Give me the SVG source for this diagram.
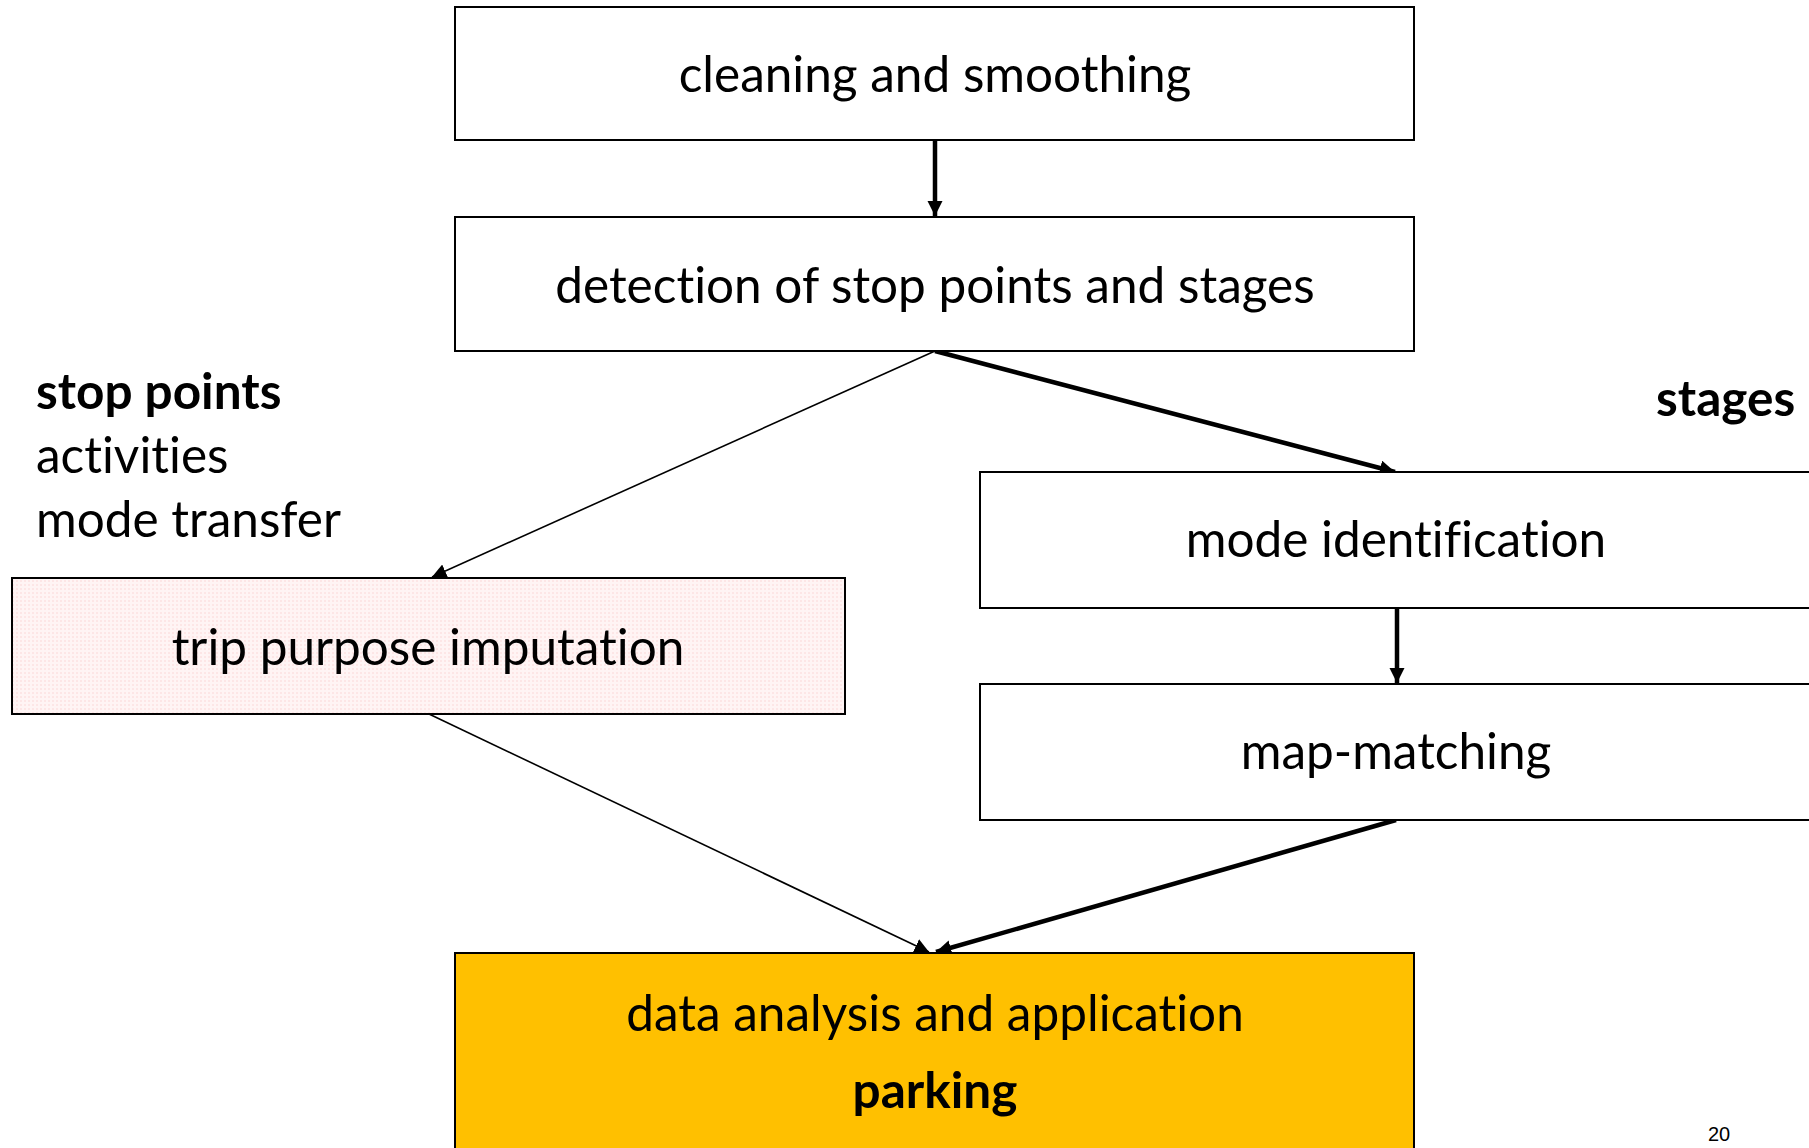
<svg xmlns="http://www.w3.org/2000/svg" width="1809" height="1148" viewBox="0 0 1809 1148">
  <defs>
    <style>
      .box { stroke: #000; stroke-width: 2; fill: #fff; }
      .lbl { font-family: Lato, "Open Sans", sans-serif; font-size: 49.5px; fill: #000; text-anchor: middle; font-variant-ligatures: none; }
      .side { font-family: Lato, "Open Sans", sans-serif; font-size: 49.5px; fill: #000; font-variant-ligatures: none; }
      .bold { font-weight: bold; }
      .thick { stroke: #000; stroke-width: 4.5; fill: none; }
      .thin { stroke: #000; stroke-width: 1.6; fill: none; }
    </style>
    <pattern id="pinkgrid" width="4" height="4" patternUnits="userSpaceOnUse">
      <rect width="4" height="4" fill="#fff4f4"/>
      <rect width="2" height="2" fill="#fde6e6"/>
    </pattern>
    <marker id="headThick" viewBox="0 0 10 10" refX="10" refY="5" markerWidth="3.4" markerHeight="3.4" orient="auto" markerUnits="strokeWidth">
      <path d="M0,0 L10,5 L0,10 Z" fill="#000"/>
    </marker>
    <marker id="headThin" viewBox="0 0 10 10" refX="10" refY="5" markerWidth="9" markerHeight="9" orient="auto" markerUnits="strokeWidth">
      <path d="M0,0 L10,5 L0,10 Z" fill="#000"/>
    </marker>
  </defs>

  <rect width="1809" height="1148" fill="#fff"/>

  <!-- connectors -->
  <g id="connectors">
    <line class="thick" x1="935" y1="140" x2="935" y2="216" marker-end="url(#headThick)"/>
    <line class="thin" x1="935" y1="351" x2="432" y2="577" marker-end="url(#headThin)"/>
    <line class="thick" x1="935" y1="351" x2="1395" y2="472" marker-end="url(#headThick)"/>
    <line class="thick" x1="1397" y1="608" x2="1397" y2="683" marker-end="url(#headThick)"/>
    <line class="thin" x1="429" y1="714" x2="929" y2="952" marker-end="url(#headThin)"/>
    <line class="thick" x1="1396" y1="820" x2="936" y2="952" marker-end="url(#headThick)"/>
  </g>

  <g id="cleaning">
    <rect class="box" x="455" y="7" width="959" height="133"/>
    <text class="lbl" x="935" y="92">cleaning and smoothing</text>
  </g>

  <g id="detection">
    <rect class="box" x="455" y="217" width="959" height="134"/>
    <text class="lbl" x="935" y="303">detection of stop points and stages</text>
  </g>

  <g id="stop-points-label">
    <text class="side bold" x="36" y="409">stop points</text>
    <text class="side" x="36" y="473">activities</text>
    <text class="side" x="36" y="537">mode transfer</text>
  </g>

  <g id="stages-label">
    <text class="side bold" x="1656" y="416">stages</text>
  </g>

  <g id="trip-purpose">
    <rect class="box" x="12" y="578" width="833" height="136" fill="url(#pinkgrid)" style="fill:url(#pinkgrid)"/>
    <text class="lbl" x="428" y="665">trip purpose imputation</text>
  </g>

  <g id="mode-identification">
    <rect class="box" x="980" y="472" width="840" height="136"/>
    <text class="lbl" x="1396" y="557">mode identification</text>
  </g>

  <g id="map-matching">
    <rect class="box" x="980" y="684" width="840" height="136"/>
    <text class="lbl" x="1396" y="769">map-matching</text>
  </g>

  <g id="data-analysis">
    <rect class="box" x="455" y="953" width="959" height="210" style="fill:#ffc000"/>
    <text class="lbl" x="935" y="1031">data analysis and application</text>
    <text class="lbl bold" x="935" y="1108">parking</text>
  </g>

  <g id="page-number">
    <text x="1719" y="1141" style="font-family:'Liberation Sans', Arial, sans-serif; font-size:20px; fill:#000" text-anchor="middle">20</text>
  </g>
</svg>
